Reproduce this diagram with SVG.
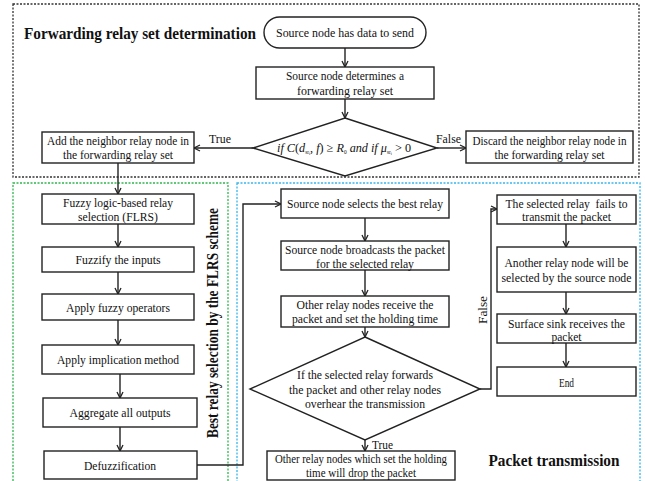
<svg xmlns="http://www.w3.org/2000/svg" width="645" height="481" viewBox="0 0 645 481">
  <defs>
    <marker id="arr" markerUnits="userSpaceOnUse" markerWidth="10" markerHeight="10" refX="7" refY="4" orient="auto">
      <path d="M1,1 L7,4 L1,7" fill="none" stroke="#222" stroke-width="1.3"/>
    </marker>
    <style>
      .box { fill: #fff; stroke: #222; stroke-width: 1.4; }
      .conn { fill: none; stroke: #222; stroke-width: 1.4; marker-end: url(#arr); }
      .t { font-family: "Liberation Serif", "Times New Roman", serif; font-size: 12.5px; fill: #111; text-anchor: middle; }
      .h { font-family: "Liberation Serif", "Times New Roman", serif; font-size: 17px; font-weight: bold; fill: #111; }
      .lbl { font-family: "Liberation Serif", "Times New Roman", serif; font-size: 12.5px; fill: #111; }
      .zone { fill: none; stroke-width: 1.3; stroke-dasharray: 2 1.5; }
    </style>
  </defs>

  <rect width="645" height="481" fill="#fff"/>

  <!-- section frames -->
  <g id="zones">
    <rect class="zone" x="13" y="4" width="626" height="173" stroke="#333"/>
    <rect class="zone" x="13" y="183" width="215" height="305" stroke="#2cb84c"/>
    <rect class="zone" x="237" y="183" width="403" height="305" stroke="#35b6f0"/>
  </g>

  <!-- section titles -->
  <text class="h" x="24" y="39" textLength="232" lengthAdjust="spacingAndGlyphs">Forwarding relay set determination</text>
  <text class="h" font-size="15" transform="translate(218,323) rotate(-90)" text-anchor="middle" textLength="230" lengthAdjust="spacingAndGlyphs">Best relay selection by the FLRS scheme</text>
  <text class="h" x="554" y="466" text-anchor="middle" textLength="131" lengthAdjust="spacingAndGlyphs">Packet transmission</text>

  <!-- connectors -->
  <g id="connectors">
    <path class="conn" d="M345,48 V67"/>
    <path class="conn" d="M345,99 V118"/>
    <path class="conn" d="M253,148 H194"/>
    <path class="conn" d="M437,148 H466"/>
    <path class="conn" d="M118,163 V194"/>
    <path class="conn" d="M118,224 V247"/>
    <path class="conn" d="M118,272 V294"/>
    <path class="conn" d="M118,320 V345"/>
    <path class="conn" d="M120,374 V398"/>
    <path class="conn" d="M120,427 V451"/>
    <path class="conn" d="M197,465 H243 V204 H281"/>
    <path class="conn" d="M365,218 V241"/>
    <path class="conn" d="M365,270 V296"/>
    <path class="conn" d="M365,327 V337"/>
    <path class="conn" d="M365,440 V451"/>
    <path class="conn" d="M480,389 H491 V209 H497"/>
    <path class="conn" d="M566,224 V247"/>
    <path class="conn" d="M566,292 V314"/>
    <path class="conn" d="M566,343 V367"/>
    <text class="lbl" x="209" y="143" textLength="22" lengthAdjust="spacingAndGlyphs">True</text>
    <text class="lbl" x="436" y="143" textLength="25" lengthAdjust="spacingAndGlyphs">False</text>
    <text class="lbl" x="372" y="448.5" font-size="12" textLength="21" lengthAdjust="spacingAndGlyphs">True</text>
    <text class="lbl" transform="translate(487,310) rotate(-90)" text-anchor="middle" textLength="28" lengthAdjust="spacingAndGlyphs">False</text>
  </g>

  <!-- forwarding relay set determination -->
  <g id="start">
    <rect class="box" x="264" y="17" width="162" height="31" rx="15.5"/>
    <text class="t" x="345" y="36.5" textLength="138" lengthAdjust="spacingAndGlyphs">Source node has data to send</text>
  </g>
  <g id="determine-set">
    <rect class="box" x="256" y="67" width="178" height="32"/>
    <text class="t" x="345" y="80" textLength="118" lengthAdjust="spacingAndGlyphs">Source node determines a</text>
    <text class="t" x="345" y="95" textLength="96" lengthAdjust="spacingAndGlyphs">forwarding relay set</text>
  </g>
  <g id="condition">
    <polygon class="box" points="345,118 437,148 345,176 253,148"/>
    <text class="lbl" x="277" y="152" font-size="12" textLength="134" lengthAdjust="spacingAndGlyphs"><tspan font-style="italic">if C</tspan>(<tspan font-style="italic">d</tspan><tspan font-size="5.5" dy="2">sr</tspan><tspan font-size="4" dy="1">i</tspan><tspan dy="-3">, </tspan><tspan font-style="italic">f</tspan>) ≥ <tspan font-style="italic">R</tspan><tspan font-size="5.5" dy="2">0</tspan><tspan dy="-2" font-style="italic"> and if μ</tspan><tspan font-size="5.5" dy="2">sr</tspan><tspan font-size="4" dy="1">i</tspan><tspan dy="-3"> &gt; 0</tspan></text>
  </g>
  <g id="add-neighbor">
    <rect class="box" x="42" y="132" width="152" height="31"/>
    <text class="t" x="118" y="145" textLength="142" lengthAdjust="spacingAndGlyphs">Add the neighbor relay node in</text>
    <text class="t" x="118" y="159" textLength="110" lengthAdjust="spacingAndGlyphs">the forwarding relay set</text>
  </g>
  <g id="discard-neighbor">
    <rect class="box" x="466" y="131" width="167" height="32"/>
    <text class="t" x="549.5" y="145" textLength="154" lengthAdjust="spacingAndGlyphs">Discard the neighbor relay node in</text>
    <text class="t" x="549.5" y="159" textLength="110" lengthAdjust="spacingAndGlyphs">the forwarding relay set</text>
  </g>

  <!-- FLRS relay selection -->
  <g id="flrs">
    <rect class="box" x="42" y="194" width="152" height="30"/>
    <text class="t" x="118" y="207" textLength="110" lengthAdjust="spacingAndGlyphs">Fuzzy logic-based relay</text>
    <text class="t" x="118" y="221" textLength="80" lengthAdjust="spacingAndGlyphs">selection (FLRS)</text>
  </g>
  <g id="fuzzify">
    <rect class="box" x="42" y="247" width="152" height="25"/>
    <text class="t" x="118" y="264" textLength="85" lengthAdjust="spacingAndGlyphs">Fuzzify the inputs</text>
  </g>
  <g id="fuzzy-operators">
    <rect class="box" x="42" y="294" width="152" height="26"/>
    <text class="t" x="118" y="311.5" textLength="104" lengthAdjust="spacingAndGlyphs">Apply fuzzy operators</text>
  </g>
  <g id="implication">
    <rect class="box" x="42" y="345" width="152" height="29"/>
    <text class="t" x="118" y="364" textLength="122" lengthAdjust="spacingAndGlyphs">Apply implication method</text>
  </g>
  <g id="aggregate">
    <rect class="box" x="43" y="398" width="154" height="29"/>
    <text class="t" x="120" y="417" textLength="101" lengthAdjust="spacingAndGlyphs">Aggregate all outputs</text>
  </g>
  <g id="defuzzification">
    <rect class="box" x="44" y="451" width="153" height="28"/>
    <text class="t" x="120" y="469.5" textLength="72" lengthAdjust="spacingAndGlyphs">Defuzzification</text>
  </g>

  <!-- packet transmission -->
  <g id="select-best">
    <rect class="box" x="281" y="189" width="168" height="29"/>
    <text class="t" x="365" y="208" textLength="156" lengthAdjust="spacingAndGlyphs">Source node selects the best relay</text>
  </g>
  <g id="broadcast">
    <rect class="box" x="281" y="241" width="168" height="29"/>
    <text class="t" x="365" y="253.5" textLength="160" lengthAdjust="spacingAndGlyphs">Source node broadcasts the packet</text>
    <text class="t" x="365" y="267.5" textLength="98" lengthAdjust="spacingAndGlyphs">for the selected relay</text>
  </g>
  <g id="holding-time">
    <rect class="box" x="281" y="296" width="168" height="31"/>
    <text class="t" x="365" y="308.5" textLength="137" lengthAdjust="spacingAndGlyphs">Other relay nodes receive the</text>
    <text class="t" x="365" y="322.5" textLength="146" lengthAdjust="spacingAndGlyphs">packet and set the holding time</text>
  </g>
  <g id="forward-check">
    <polygon class="box" points="365,337 480,389 365,440 250,389"/>
    <text class="t" x="365" y="378.5" textLength="136" lengthAdjust="spacingAndGlyphs">If the selected relay forwards</text>
    <text class="t" x="365" y="393.5" textLength="152" lengthAdjust="spacingAndGlyphs">the packet and other relay nodes</text>
    <text class="t" x="365" y="407.5" textLength="120" lengthAdjust="spacingAndGlyphs">overhear the transmission</text>
  </g>
  <g id="drop-packet">
    <rect class="box" x="267" y="451" width="188" height="29"/>
    <text class="t" x="361" y="463" textLength="172" lengthAdjust="spacingAndGlyphs">Other relay nodes which set the holding</text>
    <text class="t" x="361" y="477" textLength="110" lengthAdjust="spacingAndGlyphs">time will drop the packet</text>
  </g>
  <g id="relay-fails">
    <rect class="box" x="497" y="195" width="139" height="29"/>
    <text class="t" x="566.5" y="207.5" textLength="122" lengthAdjust="spacingAndGlyphs" xml:space="preserve">The selected relay  fails to</text>
    <text class="t" x="566.5" y="221" textLength="89" lengthAdjust="spacingAndGlyphs">transmit the packet</text>
  </g>
  <g id="reselect">
    <rect class="box" x="497" y="247" width="139" height="45"/>
    <text class="t" x="566.5" y="266.5" textLength="124" lengthAdjust="spacingAndGlyphs">Another relay node will be</text>
    <text class="t" x="566.5" y="281.5" textLength="130" lengthAdjust="spacingAndGlyphs">selected by the source node</text>
  </g>
  <g id="sink-receives">
    <rect class="box" x="497" y="314" width="139" height="29"/>
    <text class="t" x="566.5" y="327.5" textLength="117" lengthAdjust="spacingAndGlyphs">Surface sink receives the</text>
    <text class="t" x="566.5" y="341" textLength="30" lengthAdjust="spacingAndGlyphs">packet</text>
  </g>
  <g id="end">
    <rect class="box" x="497" y="367" width="139" height="29"/>
    <text class="t" x="566.5" y="386.5" textLength="15" lengthAdjust="spacingAndGlyphs">End</text>
  </g>
</svg>
